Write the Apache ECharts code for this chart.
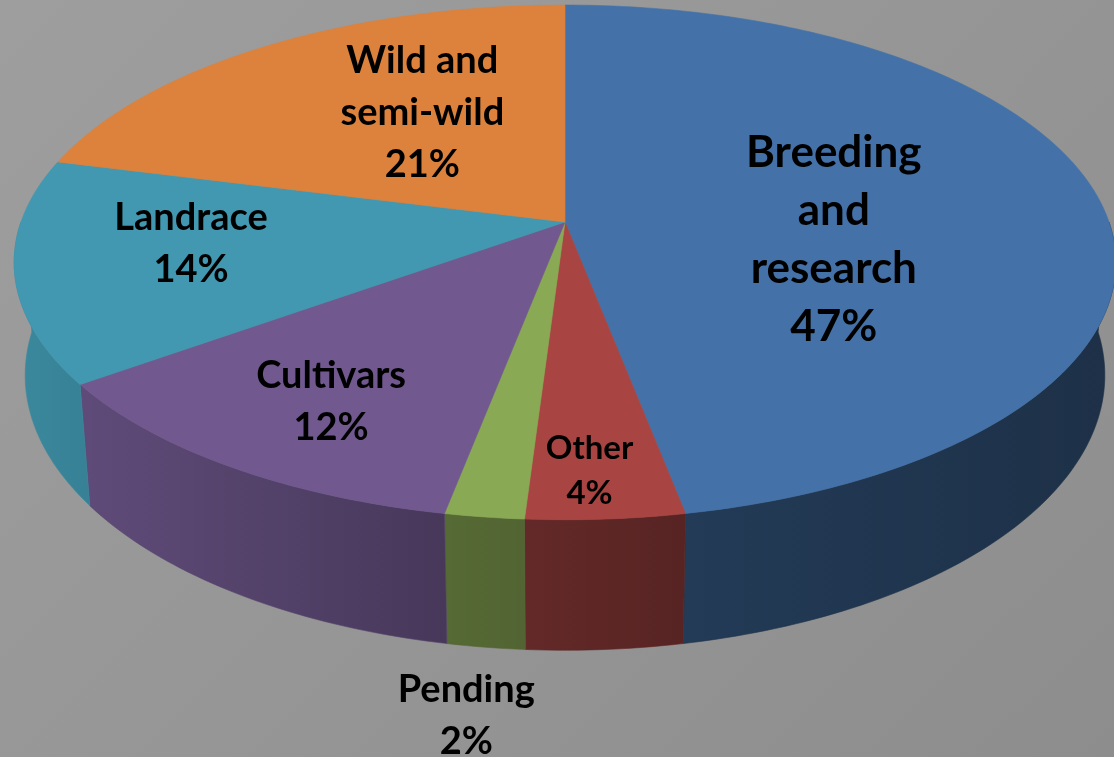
<!DOCTYPE html>
<html><head><meta charset="utf-8">
<script src="https://cdn.jsdelivr.net/npm/echarts@6/dist/echarts.min.js"></script>
<style>html,body{margin:0;padding:0;overflow:hidden;} #c{width:1114px;height:757px;background:linear-gradient(135deg,#9e9e9e 0%,#969696 50%,#8d8d8d 100%);}</style>
</head><body><div id="c"></div>
<script>
// ---- data ----
const categories = ['Breeding and research', 'Other', 'Pending', 'Cultivars', 'Landrace', 'Wild and semi-wild'];
const labelLines = ['Breeding\nand\nresearch', 'Other', 'Pending', 'Cultivars', 'Landrace', 'Wild and\nsemi-wild'];
const values = [47, 4, 2, 12, 14, 21];

// ---- styles / layout ----
const topColors = ['#4472a8', '#a84543', '#8aa954', '#71598f', '#4198b0', '#dc823c'];
const labelRadius = [0.5, 0.85, 1.0, 0.7, 0.7, 0.55];
const labelShift = [[0, 30], [-9, 3], [-18, 199], [-9, 16], [8, -12], [29, -7]];
const labelFont = [44, 33, 38, 38, 38, 38];
const labelLH = [58, 45, 52, 52, 52, 52];

const CX = 565, CY = 222, A = 544, B = 251, K = 0.157, DEPTH = 110, SHRINK = 0.98;

const total = values.reduce((s, v) => s + v, 0);
const starts = [];
{ let c = 0; values.forEach(v => { starts.push(c / total * 2 * Math.PI); c += v; }); }

function proj(r, th) {
  const u = r * Math.sin(th), w = -r * Math.cos(th), D = 1 - K * w;
  return [CX + A * u / D, CY + B * w / D, D];
}
function bottom(th) {
  const p = proj(1, th);
  return [CX + (p[0] - CX) * SHRINK, p[1] + DEPTH / p[2]];
}
function shade(hex, f) {
  const n = parseInt(hex.slice(1), 16);
  const r = Math.round(((n >> 16) & 255) * f), g = Math.round(((n >> 8) & 255) * f), b = Math.round((n & 255) * f);
  return 'rgb(' + r + ',' + g + ',' + b + ')';
}
function wallFactor(th) {
  const d = th * 180 / Math.PI;
  return Math.max(0.42, Math.min(0.9, 0.42 + (d - 150) / 95 * 0.48));
}
function arc(a0, a1) {
  const pts = [];
  const n = Math.max(2, Math.ceil((a1 - a0) / (Math.PI / 180)));
  for (let j = 0; j <= n; j++) pts.push(a0 + (a1 - a0) * j / n);
  return pts;
}

const seriesData = values.map((v, i) => [i, v]);

const chart = echarts.init(document.getElementById('c'), null, { renderer: 'canvas' });
chart.setOption({
  backgroundColor: 'transparent',
  animation: false,
  series: [
    {
      type: 'custom', coordinateSystem: 'none', z: 1, silent: true,
      data: seriesData,
      renderItem: function (params, api) {
        const i = api.value(0);
        const v = api.value(1);
        let a0 = starts[i], a1 = a0 + v / total * 2 * Math.PI;
        a0 = Math.max(a0, Math.PI / 2); a1 = Math.min(a1, Math.PI * 1.5);
        if (a1 <= a0) return null;
        const angs = arc(a0, a1);
        const pts = angs.map(t => proj(1, t).slice(0, 2));
        const bpts = angs.slice().reverse().map(t => bottom(t));
        const col = topColors[i];
        return {
          type: 'polygon',
          shape: { points: pts.concat(bpts) },
          style: {
            fill: {
              type: 'linear', x: 0, y: 0, x2: 1, y2: 0,
              colorStops: [
                { offset: 0, color: shade(col, wallFactor(a1)) },
                { offset: 1, color: shade(col, wallFactor(a0)) }
              ]
            },
            stroke: shade(col, wallFactor((a0 + a1) / 2)), lineWidth: 0.6
          }
        };
      }
    },
    {
      type: 'custom', coordinateSystem: 'none', z: 2, silent: true,
      data: seriesData,
      renderItem: function (params, api) {
        const i = api.value(0);
        const v = api.value(1);
        const a0 = starts[i], a1 = a0 + v / total * 2 * Math.PI;
        const pts = [[CX, CY]].concat(arc(a0, a1).map(t => proj(1, t).slice(0, 2)));
        const mid = (a0 + a1) / 2;
        const lp = proj(labelRadius[i], mid);
        return {
          type: 'group',
          children: [
            {
              type: 'polygon',
              shape: { points: pts },
              style: { fill: topColors[i], stroke: topColors[i], lineWidth: 0.6 }
            },
            {
              type: 'text', z2: 10,
              x: lp[0] + labelShift[i][0], y: lp[1] + labelShift[i][1],
              style: {
                text: labelLines[i] + '\n' + v + '%',
                fill: '#000',
                fontFamily: 'Lato',
                fontWeight: 'bold',
                fontSize: labelFont[i],
                lineHeight: labelLH[i],
                align: 'center',
                verticalAlign: 'middle'
              }
            }
          ]
        };
      }
    }
  ]
});
</script>
</body></html>
